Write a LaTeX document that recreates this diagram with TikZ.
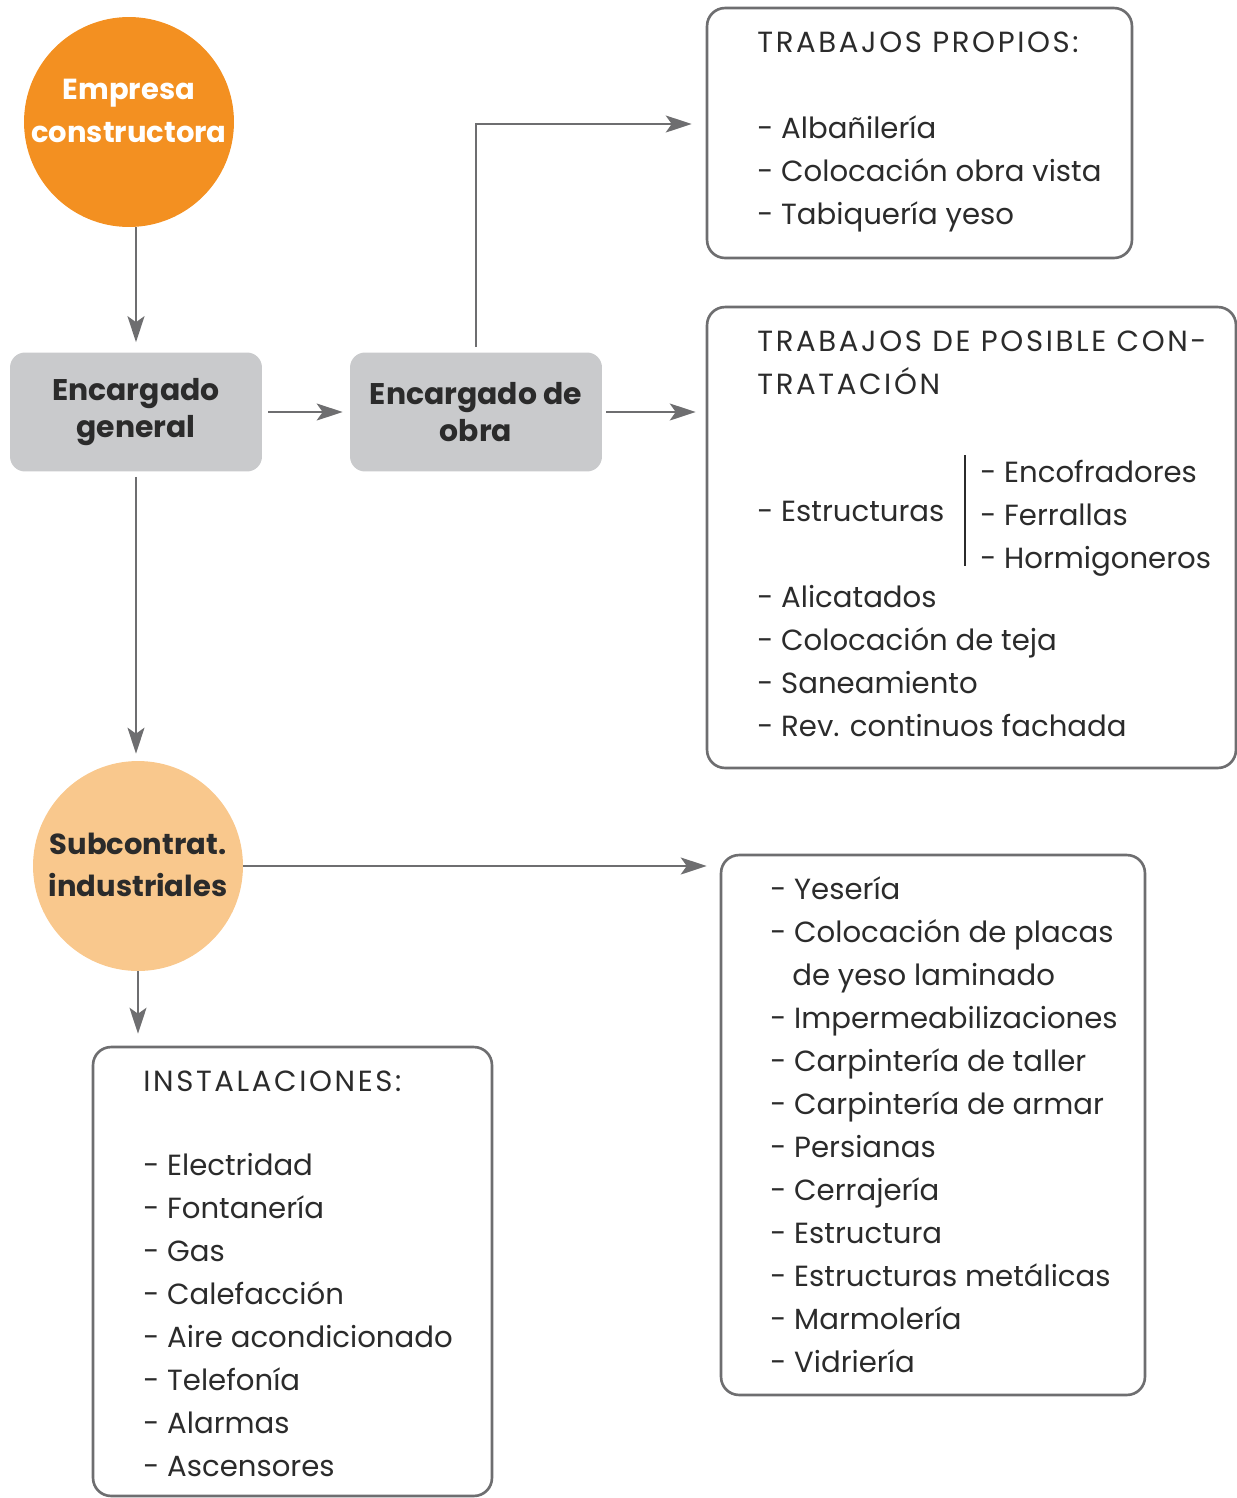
\documentclass[tikz,border=0pt]{standalone}
\usepackage{fontspec}
\setmainfont{Poppins}
\newfontfamily\titulofont[LetterSpace=9]{Poppins}
\usetikzlibrary{positioning,arrows.meta}
\definecolor{naranja}{HTML}{F39021}
\definecolor{naranjaclaro}{HTML}{F9C88D}
\definecolor{grisbox}{HTML}{C9CACC}
\definecolor{gristexto}{HTML}{2B2B2B}
\definecolor{grislinea}{HTML}{6E6E70}
\tikzset{
  circulo/.style={circle, minimum size=4.2cm, inner sep=0},
  rotulo/.style={inner sep=0, align=center,
    font=\fontsize{16.5}{24}\selectfont\bfseries},
  caja/.style={rectangle, rounded corners=0.3cm, fill=grisbox, text=gristexto,
    minimum width=5.04cm, minimum height=2.38cm, align=center,
    font=\fontsize{17}{21.5}\selectfont\bfseries},
  lista/.style={rectangle, rounded corners=0.36cm, draw=grislinea, line width=1.5pt},
  item/.style={anchor=base west, inner sep=0, text=gristexto,
    font=\fontsize{16.6}{20}\selectfont},
  titulo/.style={item, font=\fontsize{16.6}{20}\titulofont},
  flecha/.style={draw=grislinea, line width=1.2pt,
    -{Stealth[length=0.52cm, width=0.34cm, inset=0.12cm]}},
  barra/.style={draw=gristexto, line width=0.7pt}
}

\begin{document}
\begin{tikzpicture}[x=0.02cm, y=-0.02cm]
  \useasboundingbox (0,0) rectangle (1237,1498);

  \node[circulo, fill=naranja] (empresa) at (129,122) {};
  \node[rotulo, text=white] (empresatxt) at (129,111) {Empresa\\constructora};
  \node[caja] (general) at (136,412) {Encargado\\general};
  \node[caja] (obra)    at (476,412) {Encargado de\\obra};
  \node[circulo, fill=naranjaclaro] (subcontrat) at (138,866) {};
  \node[rotulo, text=gristexto] (subcontrattxt) at (138,865) {Subcontrat.\\industriales};

  \node[lista, minimum width=8.5cm,  minimum height=5cm]    (propios)       at (919.5,133)   {};
  \node[lista, minimum width=10.58cm, minimum height=9.22cm] (posible)       at (971.5,537.5) {};
  \node[lista, minimum width=8.48cm, minimum height=10.8cm] (oficios)       at (933,1125)    {};
  \node[lista, minimum width=7.98cm, minimum height=8.98cm] (instalaciones) at (292.5,1271.5) {};

  \draw[flecha, shorten >=0.2cm] (general.north |- empresa.south) -- (general.north);
  \draw[flecha, shorten <=0.12cm, shorten >=0.14cm] (general) -- (obra);
  \draw[flecha, shorten <=0.08cm, shorten >=0.2cm] (obra.east) -- (obra.east -| posible.west);
  \draw[flecha, shorten <=0.1cm, shorten >=0.28cm] (obra.north) |- ([yshift=0.18cm]propios.west);
  \draw[flecha, shorten <=0.1cm, shorten >=0.14cm] (general.south) -- (general.south |- subcontrat.north);
  \draw[flecha, shorten >=0.26cm] (subcontrat.east) -- (subcontrat.east -| oficios.west);
  \draw[flecha, shorten >=0.24cm] (subcontrat.south) -- (subcontrat.south |- instalaciones.north);

  % trabajos propios
  \node[titulo] (titpropios) at (757,52) {TRABAJOS PROPIOS:};
  \foreach \t [count=\i] in {Albañilería, Colocación obra vista, Tabiquería yeso}
    \node[item] at (757,{95+43*\i}) {- \t};

  % trabajos de posible contratacion
  \node[titulo] (titposible) at (757,351) {TRABAJOS DE POSIBLE CON-};
  \node[titulo] at (757,394) {TRATACIÓN};
  \node[item] (estructuras) at (757,521) {- Estructuras};
  \foreach \t [count=\i] in {Encofradores, Ferrallas, Hormigoneros}
    \node[item] at (980,{439+43*\i}) {- \t};
  \draw[barra] (965,455) -- (965,566);
  \foreach \t [count=\i] in {Alicatados, Colocación de teja, Saneamiento, Rev. continuos fachada}
    \node[item] at (757,{564+43*\i}) {- \t};

  % subcontratas
  \foreach \t [count=\i] in {Yesería, Colocación de placas, de yeso laminado, Impermeabilizaciones,
      Carpintería de taller, Carpintería de armar, Persianas, Cerrajería, Estructura,
      Estructuras metálicas, Marmolería, Vidriería}{
    \ifnum\i=3
      \node[item] at (792,{856+43*\i}) {\t};
    \else
      \node[item] at (770,{856+43*\i}) {- \t};
    \fi}

  % instalaciones
  \node[titulo] (titinstal) at (143,1091) {INSTALACIONES:};
  \foreach \t [count=\i] in {Electridad, Fontanería, Gas, Calefacción, Aire acondicionado,
      Telefonía, Alarmas, Ascensores}
    \node[item] at (143,{1132+43*\i}) {- \t};
\end{tikzpicture}
\end{document}
